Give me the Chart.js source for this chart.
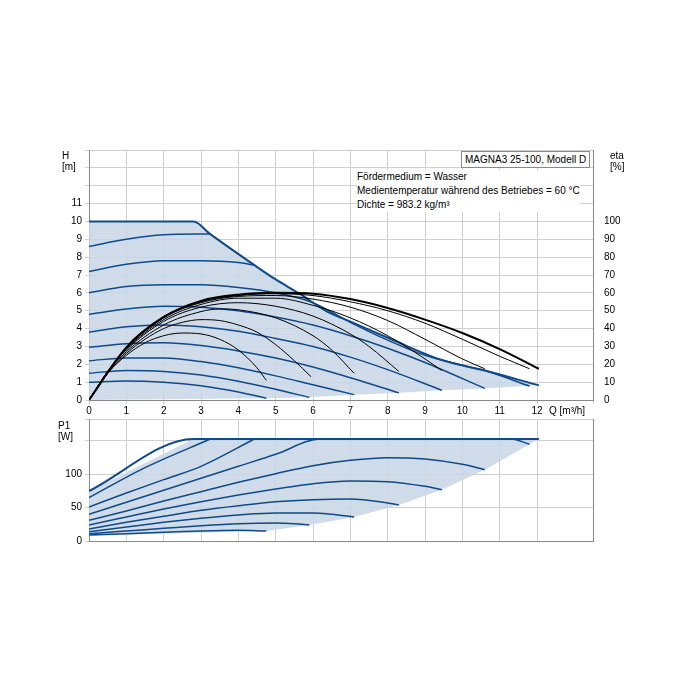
<!DOCTYPE html>
<html><head><meta charset="utf-8">
<script src="https://cdn.jsdelivr.net/npm/chart.js@4"></script>
<style>
body{margin:0;background:#fff;font-family:"Liberation Sans",Arial,sans-serif;}
.t{position:absolute;font-size:10px;color:#000;line-height:11px;white-space:nowrap}
#c1{position:absolute;left:50px;top:140px}
#c2{position:absolute;left:50px;top:410px}
</style></head><body>
<canvas id="c1" width="600" height="280"></canvas>
<canvas id="c2" width="600" height="140"></canvas>
<div class="t" style="left:62px;top:150px">H<br>[m]</div>
<div class="t" style="left:610px;top:150px">eta<br>[%]</div>
<div class="t" style="left:549px;top:405px">Q [m³/h]</div>
<div class="t" style="left:58px;top:420px">P1<br>[W]</div>
<div class="t" style="left:461px;top:151px;border:1px solid #888;padding:2px 3px;background:#fff">MAGNA3 25-100, Modell D</div>
<div class="t" style="left:357px;top:170px;line-height:14px;background:#fff">Fördermedium = Wasser<br>Medientemperatur während des Betriebes = 60 °C<br>Dichte = 983.2 kg/m³</div>
<script>
// Head curves [Q, H]
const hMax=[[0,10],[2.8,10],[3.24,9.3],[4.43,7.55],[5.0,6.75],[5.62,5.98],[6.38,4.95],[7.05,4.35],[8.1,3.4],[9.43,2.25],[10.6,1.65],[12.05,0.82]];
const hLow=[[12.05,0.82],[11.8,0.8],[10.6,0.65],[9.45,0.55],[8.3,0.4],[7.1,0.3],[5.9,0.15],[4.75,0.1],[0,0]];
const hI=[[0,8.6],[1,9.0],[2,9.25],[3.24,9.3]];
const hH=[[0,7.2],[1,7.6],[2,7.8],[3,7.8],[4,7.7],[4.43,7.55]];
const hG=[[0,6.0],[1,6.35],[2,6.45],[3,6.45],[4,6.3],[5,6.0],[6,5.45],[7,4.35],[8,3.35],[9,2.5],[10,1.95],[10.6,1.65],[11.8,0.78]];
const hF=[[0,4.8],[1,5.1],[2,5.25],[3,5.2],[4,5.0],[5,4.65],[6,4.2],[7,3.6],[8,2.9],[9,2.1],[10.6,0.65]];
const hE=[[0,3.8],[1,4.1],[2,4.2],[3,4.1],[4,3.85],[5,3.45],[6,3.0],[7,2.4],[8,1.7],[9.45,0.55]];
const hD=[[0,2.95],[1,3.15],[2,3.2],[3,3.05],[4,2.75],[5,2.35],[6,1.85],[7,1.25],[8.3,0.4]];
const hC=[[0,2.2],[1,2.35],[2,2.35],[3,2.15],[4,1.8],[5,1.35],[6,0.85],[7.1,0.3]];
const hB=[[0,1.5],[1,1.65],[2,1.6],[3,1.4],[4,1.05],[5,0.6],[5.9,0.15]];
const hA=[[0,1.0],[1,1.07],[2,1.0],[3,0.8],[4,0.45],[4.75,0.1]];
// Efficiency curves [Q, eta %]
const e1=[[0,0],[0.5,15],[1,25],[1.5,32],[2,36],[2.5,37.5],[3,37],[3.5,34],[4,28],[4.5,18],[4.75,11]];
const e2=[[0,0],[0.5,15],[1,26],[1.5,34],[2,40],[2.5,43.5],[3,45],[3.5,44.5],[4,42],[4.5,38],[5,31],[5.5,22],[5.95,13]];
const e3=[[0,0],[0.5,15.5],[1,27],[2,42],[3,49.5],[3.5,51],[4,50.5],[5,46],[6,36],[6.5,28],[7.1,15]];
const e4=[[0,0],[0.5,16],[1,28],[2,44],[3,52],[4,54.5],[5,52.5],[6,47],[7,37],[7.5,30],[8.3,16]];
const e5=[[0,0],[0.5,16],[1,28.5],[2,45],[3,53.5],[4,57],[5,57],[6,53],[7,46],[8,36],[9,23],[9.45,16.5]];
const e6=[[0,0],[0.5,16],[1,29],[2,46],[3,54.5],[4,58],[5,58.5],[6,56.5],[7,52],[8,44.5],[9,34],[10,23],[10.6,17.5]];
const e7=[[0,0],[1,29],[2,46],[3,55],[4,58.5],[5,59.5],[6,58.5],[7,55],[8,50],[9,43],[10,34],[11,24.5],[11.8,17.5]];
const e8=[[0,0],[1,29.5],[2,46.5],[3,55.5],[4,59],[5,60],[6,59.5],[7,56.5],[8,51.5],[9,45],[10,37.5],[11,28.5],[12.05,17.5]];
// Power curves [Q, P1 W]
const pMax=[[0,75],[2.8,153],[12.05,153]];
const pLow=[[12.05,153],[11.8,145],[10.6,107],[9.45,77],[8.3,54],[7.1,36],[5.9,24],[4.75,15],[0,8]];
const pI=[[0,65],[1.5,110],[3.25,153]];
const pH=[[0,51],[1,72],[2,92],[3,112],[4.43,153]];
const pG=[[0,40],[1,58],[2,76],[3,94],[4,112],[5,130],[6.2,153],[11.3,153],[11.8,145]];
const pF=[[0,31],[1,45],[2,60],[3,74],[4,88],[5,101],[6,113],[7,121],[8,125],[9,123],[10,115],[10.6,107]];
const pE=[[0,24],[1,36],[2,48],[3,59],[4,69],[5,78],[6,86],[7,90],[8,89],[9,82],[9.45,77]];
const pD=[[0,18],[1,28],[2,37],[3,46],[4,53],[5,59],[6,62],[7,63],[8,57],[8.3,54]];
const pC=[[0,14],[1,21],[2,28],[3,34],[4,39],[5,42],[6,42],[6.5,40],[7.1,36]];
const pB=[[0,11],[1,15],[2,19],[3,23],[4,26],[5,27],[5.5,26],[5.9,24]];
const pA=[[0,9],[1,11],[2,13],[3,15],[4,16],[4.75,15]];

const BLUE='#0f4a8a', FILL='rgba(200,214,229,0.85)', GRID='#d0d0d0';
const pts=a=>a.map(p=>({x:p[0],y:p[1]}));
const line=(a,o)=>Object.assign({data:pts(a),borderColor:BLUE,borderWidth:1.5,pointRadius:0,cubicInterpolationMode:'monotone',fill:false,order:1},o||{});
const shape=a=>({data:pts(a),fill:'shape',backgroundColor:FILL,borderWidth:0,borderColor:'rgba(0,0,0,0)',pointRadius:0,tension:0,order:100});
const font={family:'"Liberation Sans",Arial,sans-serif',size:10};
const xScale=(h,show)=>({type:'linear',min:0,max:13.5,grid:{color:GRID,drawTicks:show,tickLength:4},border:{color:'#888'},
  ticks:{display:show,stepSize:1,color:'#000',font,padding:1,autoSkip:false,callback:v=>v<=12&&Number.isInteger(v)?v:''},
  afterFit:s=>{s.height=h;}});

new Chart(document.getElementById('c1'),{type:'line',
 data:{datasets:[
  shape(hMax.concat(hLow)),
  line(hMax,{borderWidth:2}),
  line(hI),line(hH),line(hG),line(hF),line(hE),line(hD),line(hC),line(hB),line(hA),
  ...[e1,e2,e3,e4,e5,e6,e7].map(e=>line(e,{borderColor:'#000',borderWidth:1,yAxisID:'y2',order:0})),
  line(e8,{borderColor:'#000',borderWidth:2,yAxisID:'y2',order:0})
 ]},
 options:{responsive:false,animation:false,layout:{padding:{top:10,left:0,right:0,bottom:0}},
  plugins:{legend:{display:false},tooltip:{enabled:false}},
  scales:{
   x:xScale(20,true),
   y:{min:0,max:14,grid:{color:GRID,tickLength:4},border:{color:'#888'},ticks:{stepSize:1,color:'#000',font,padding:3,callback:v=>v<=11?v:''},afterFit:s=>{s.width=39;}},
   y2:{position:'right',min:0,max:140,grid:{display:false},border:{color:'#888'},ticks:{stepSize:10,color:'#000',font,padding:3,callback:v=>v<=100?v:''},afterFit:s=>{s.width=57;}}
  }}});

new Chart(document.getElementById('c2'),{type:'line',
 data:{datasets:[
  shape(pMax.concat(pLow)),
  line(pMax,{borderWidth:2}),
  line(pI),line(pH),line(pG),line(pF),line(pE),line(pD),line(pC),line(pB),line(pA)
 ]},
 options:{responsive:false,animation:false,layout:{padding:{top:9,left:0,right:0,bottom:0}},
  plugins:{legend:{display:false},tooltip:{enabled:false}},
  scales:{
   x:xScale(8,false),
   y:{min:0,max:183,grid:{color:GRID,tickLength:4},border:{color:'#888'},ticks:{stepSize:50,color:'#000',font,padding:3,callback:v=>v<=100?v:''},afterFit:s=>{s.width=39;}},
   y2:{position:'right',min:0,max:183,grid:{display:false},border:{color:'#888'},ticks:{display:false},afterFit:s=>{s.width=57;}}
  }}});
</script></body></html>
